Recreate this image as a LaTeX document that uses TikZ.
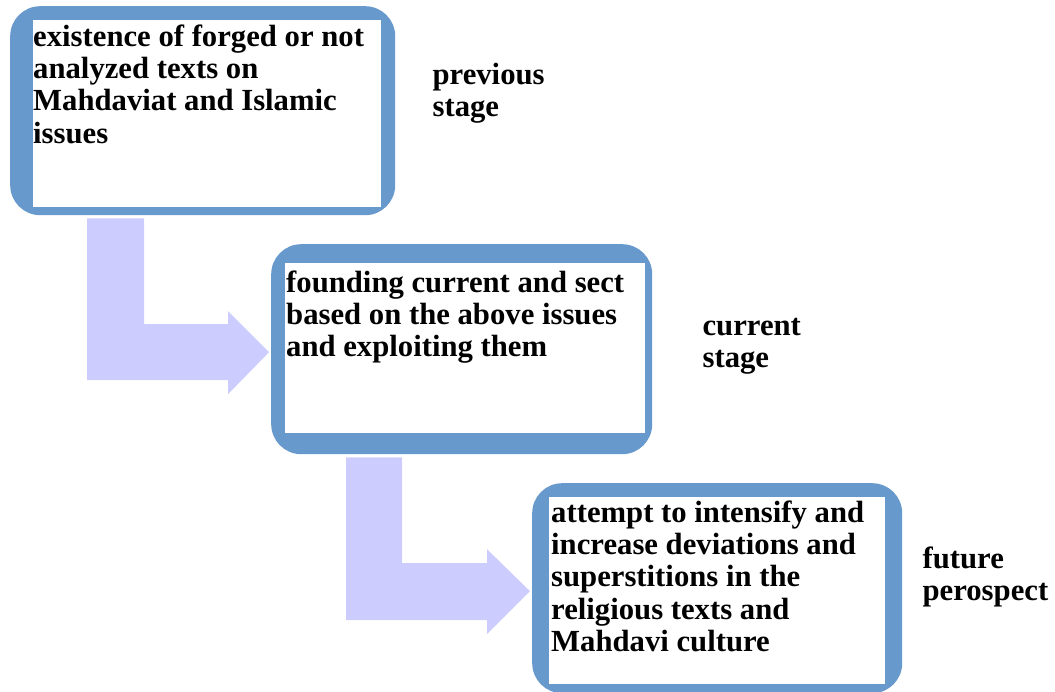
\documentclass[tikz,border=0pt]{standalone}
\usepackage{fontspec}
\setmainfont{Liberation Serif}
\usetikzlibrary{calc}
\definecolor{boxblue}{RGB}{103,153,204}
\definecolor{arrowlav}{RGB}{204,204,255}
\tikzstyle{stagebox} = [rectangle, fill=boxblue, rounded corners=30pt, inner sep=0pt, anchor=north west]
\tikzstyle{inner} = [fill=white]
\tikzstyle{boxtext} = [anchor=north west, inner sep=0pt, align=left, font=\fontsize{30.7}{32.3}\selectfont\bfseries]
\tikzstyle{bendarrow} = [fill=arrowlav]

\begin{document}
\begin{tikzpicture}[x=1pt, y=-1pt]
		\useasboundingbox (0,0) rectangle (1055,692);
		% stage boxes
		\node[stagebox, minimum width=385pt, minimum height=209pt] (b1) at (10,6) {};
		\node[stagebox, minimum width=381pt, minimum height=210pt] (b2) at (271,244) {};
		\node[stagebox, minimum width=370pt, minimum height=210pt] (b3) at (532,483) {};
		\fill[inner] ($(b1.north west)+(23,14)$) rectangle ($(b1.south east)+(-14,-8)$);
		\fill[inner] ($(b2.north west)+(14,19)$) rectangle ($(b2.south east)+(-7,-21)$);
		\fill[inner] ($(b3.north west)+(17,14)$) rectangle ($(b3.south east)+(-17,-9)$);
		
		\node[boxtext] (t1) at ($(b1.north west)+(23,17.4)$) {\strut existence of forged or not\\analyzed texts on\\Mahdaviat and Islamic\\issues};
		\node[boxtext] (t2) at ($(b2.north west)+(15,25.4)$) {\strut founding current and sect\\based on the above issues\\and exploiting them};
		\node[boxtext] (t3) at ($(b3.north west)+(19,16.4)$) {\strut attempt to intensify and\\increase deviations and\\superstitions in the\\religious texts and\\Mahdavi culture};
		
		% stage labels
		\node[boxtext] (l1) at ($(b1.north east)+(37,55.4)$) {\strut previous\\stage};
		\node[boxtext] (l2) at ($(b2.north east)+(50,68.4)$) {\strut current\\stage};
		\node[boxtext] (l3) at ($(b3.north east)+(20,62.4)$) {\strut future\\perospect};
		
		% bent arrows
		\coordinate (a1s) at ($(b1.south west)+(77,3)$);
		\coordinate (a1e) at ($(b2.west)+(-2,3)$);
		\coordinate (a2s) at ($(b2.south west)+(75,3)$);
		\coordinate (a2e) at ($(b3.west)+(-2,3)$);
		\path[bendarrow] (a1s) -- ++(57,0) |- ($(a1e)+(-41,-28)$) -- ++(0,-13) -- (a1e) -- ($(a1e)+(-41,42)$) -- ++(0,-14) -| (a1s) -- cycle;
		\path[bendarrow] (a2s) -- ++(56,0) |- ($(a2e)+(-43,-28)$) -- ++(0,-14) -- (a2e) -- ($(a2e)+(-43,43)$) -- ++(0,-14) -| (a2s) -- cycle;
	\end{tikzpicture}
\end{document}
